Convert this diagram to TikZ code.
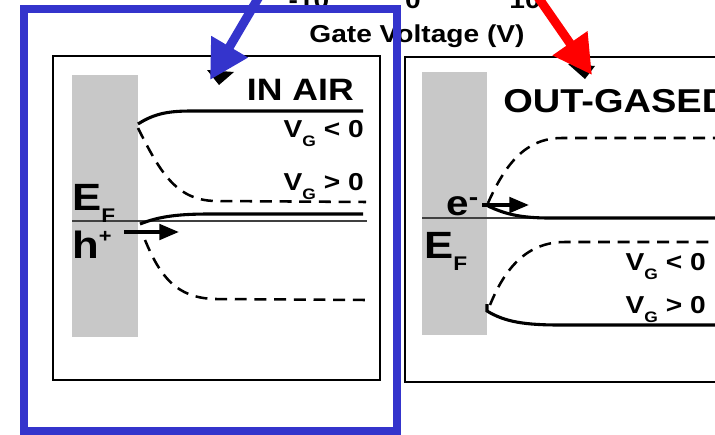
\documentclass[tikz,border=0pt]{standalone}
\usepackage{fontspec}
\setmainfont{Liberation Sans}[FakeStretch=1.15]
\usepackage{graphicx}
\usetikzlibrary{arrows.meta}

\definecolor{markblue}{RGB}{52,52,204}
\definecolor{markred}{RGB}{255,0,0}
\definecolor{metalgray}{RGB}{200,200,200}

% shifted, shrunk index (sub- or superscript)
\newcommand{\shiftidx}[3]{\raisebox{#1}{\scalebox{#2}{#3}}}

\begin{document}
\begin{tikzpicture}[x=0.025cm, y=-0.025cm,
		frame/.style={line width=1.6pt},
		metal/.style={fill=metalgray, draw=none},
		band/.style={line width=2.2pt},
		bandd/.style={line width=1.8pt, dash pattern=on 8.5pt off 5.5pt},
		fermi/.style={line width=1pt, black!75},
		carrier/.style={line width=2.6pt, -{Triangle[length=14pt,width=11pt]}},
		pointer/.style={line width=6.4pt, -{Triangle[length=27.5pt,width=28.5pt]}},
		axislbl/.style={inner sep=0pt, font=\bfseries\fontsize{17.4pt}{20pt}\selectfont},
		vglbl/.style={inner sep=0pt, anchor=base east, font=\bfseries\fontsize{17.4pt}{20pt}\selectfont},
		biglbl/.style={inner sep=0pt, anchor=base west, font=\bfseries\fontsize{27pt}{30pt}\selectfont}]
	\useasboundingbox (0,0) rectangle (715,434);
	
	% Axis remains at the top
	\node[axislbl, anchor=base] (tickneg) at (309,8) {-10};
	\node[axislbl, anchor=base] (tickzero) at (413,8) {0};
	\node[axislbl, anchor=base] (tickpos) at (525,8) {10};
	\node[axislbl, anchor=base] (gatelbl) at (417,42) {Gate Voltage (V)};
	
	% Left panel - in air
	\draw[frame] (53,56) rectangle (380,380);
	\fill[metal] (72,75) rectangle (138,337);
	\draw[fermi] (72,221) -- (367,221);
	\draw[band] (138,124) .. controls (155,113) and (170,111) .. (192,111) -- (363,111);
	\draw[bandd] (138,128) .. controls (160,172) and (176,200) .. (215,201) -- (366,202);
	\draw[band] (140,224) .. controls (160,216) and (180,214) .. (210,214) -- (363,214);
	\draw[bandd] (145,240) .. controls (160,276) and (176,298) .. (215,299) -- (366,300);
	\node[inner sep=0pt, anchor=base east, font=\bfseries\fontsize{22pt}{25pt}\selectfont] (airlbl) at (354,100) {IN AIR};
	\node[vglbl] (airneg) at (364,137) {V\shiftidx{-0.37em}{0.62}{G} < 0};
	\node[vglbl] (airpos) at (364,190) {V\shiftidx{-0.37em}{0.62}{G} > 0};
	\node[biglbl] (airfermi) at (72,210) {E\shiftidx{-0.32em}{0.52}{F}};
	\node[biglbl] (hole) at (72,258) {h\shiftidx{0.4em}{0.5}{+}};
	\coordinate (holefrom) at (124,232);
	\coordinate (holeto) at (179,232);
	\draw[carrier] (holefrom) -- (holeto);
	
	% Right panel - out-gased
	\draw[frame] (405,57) rectangle (740,382);
	\fill[metal] (422,72) rectangle (487,335);
	\draw[fermi] (422,218) -- (715,218);
	\draw[bandd] (488,203) .. controls (505,165) and (525,138) .. (562,138) -- (715,138);
	\draw[band] (488,206) .. controls (505,214) and (520,218) .. (550,218) -- (715,218);
	\draw[bandd] (490,305) .. controls (505,268) and (527,242) .. (565,242) -- (715,242);
	\draw[band] (487,304) -- (487,311) .. controls (505,322) and (525,325) .. (560,325) -- (715,325);
	\node[inner sep=0pt, anchor=base west, font=\bfseries\fontsize{23.5pt}{26pt}\selectfont] (gaslbl) at (503,112) {OUT-GASED};
	\node[vglbl] (gasneg) at (706,270) {V\shiftidx{-0.37em}{0.62}{G} < 0};
	\node[vglbl] (gaspos) at (706,313) {V\shiftidx{-0.37em}{0.62}{G} > 0};
	\node[biglbl] (gasfermi) at (424,258) {E\shiftidx{-0.32em}{0.52}{F}};
	\node[inner sep=0pt, anchor=base west, font=\bfseries\fontsize{25pt}{28pt}\selectfont] (elec) at (446,215) {e\shiftidx{0.26em}{0.7}{-}};
	\coordinate (elecfrom) at (482,205);
	\coordinate (electo) at (529,205);
	\draw[carrier] (elecfrom) -- (electo);
	
	% old black tips under the pointers
	\fill (207,70) -- (234,72) -- (219,85) -- cycle;
	\fill (568,64) -- (595,66) -- (585,79) -- cycle;
	
	% Blue frame round the left panel
	\draw[markblue, line width=5.7pt] (24,9) rectangle (397,431);
	
	% Pointers
	\coordinate (bluefrom) at (263,-10);
	\coordinate (blueto) at (210,80);
	\coordinate (redfrom) at (533,-10);
	\coordinate (redto) at (592,75);
	\draw[pointer, markblue] (bluefrom) -- (blueto);
	\draw[pointer, markred] (redfrom) -- (redto);
\end{tikzpicture}
\end{document}
